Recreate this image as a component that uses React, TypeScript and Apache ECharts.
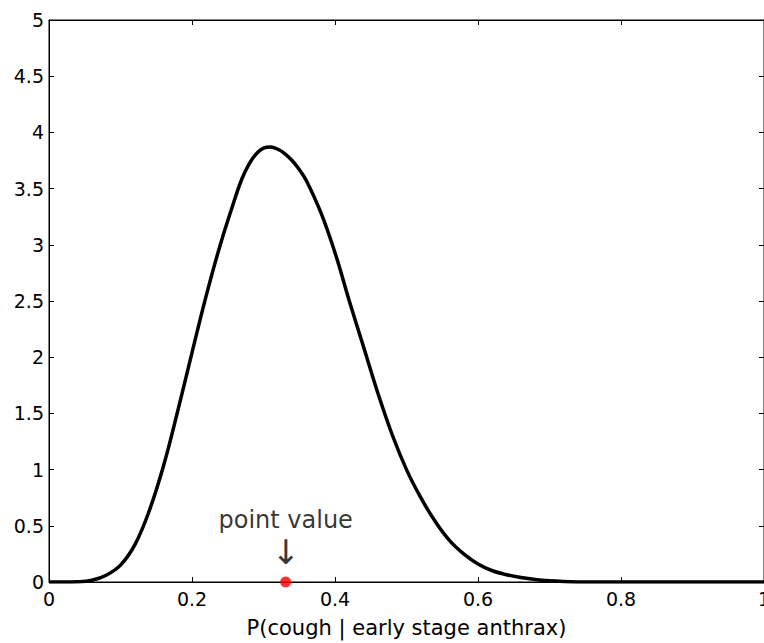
import React, { useEffect, useRef } from "react";
import * as echarts from "echarts";

const xValues = [0, 0.02, 0.04, 0.06, 0.08, 0.1, 0.12, 0.14, 0.16, 0.18, 0.2, 0.22, 0.24, 0.26, 0.27, 0.28, 0.29, 0.3, 0.31, 0.32, 0.33, 0.34, 0.35, 0.36, 0.38, 0.4, 0.42, 0.44, 0.46, 0.48, 0.5, 0.52, 0.54, 0.56, 0.58, 0.6, 0.62, 0.64, 0.66, 0.68, 0.7, 0.72, 0.75, 0.8, 0.9, 1.0];
const density = [0, 0, 0.002, 0.015, 0.06, 0.15, 0.33, 0.63, 1.03, 1.52, 2.04, 2.55, 3.01, 3.41, 3.59, 3.72, 3.81, 3.86, 3.87, 3.85, 3.81, 3.75, 3.67, 3.57, 3.29, 2.93, 2.5, 2.09, 1.68, 1.31, 1.0, 0.75, 0.54, 0.37, 0.25, 0.16, 0.1, 0.065, 0.04, 0.022, 0.011, 0.005, 0, 0, 0, 0];
const pointValue = [0.331, 0];
const xLabel = "P(cough | early stage anthrax)";
const annotation = "point value";

const FONT = "DejaVu Sans";

export default function App() {
  const ref = useRef<HTMLDivElement>(null);
  useEffect(() => {
    if (!ref.current) return;
    const chart = echarts.init(ref.current, null, { renderer: "svg" });
    const axisCommon = {
      axisLine: { show: true, onZero: false, lineStyle: { color: "#000", width: 1 } },
      axisTick: { show: true, inside: true, length: 5, lineStyle: { color: "#000", width: 1 } },
      splitLine: { show: false },
    };
    chart.setOption({
      animation: false,
      backgroundColor: "#fff",
      grid: {
        left: 49,
        right: 0,
        top: 20,
        bottom: 61,
        containLabel: false,
        outerBoundsMode: "none",
        show: true,
        borderColor: "#000",
        borderWidth: 1,
        backgroundColor: "transparent",
      },
      xAxis: [
        {
          type: "value",
          min: 0,
          max: 1,
          interval: 0.2,
          position: "bottom",
          name: xLabel,
          nameLocation: "middle",
          nameGap: 35,
          nameTextStyle: { fontFamily: FONT, fontSize: 21, color: "#000" },
          axisLabel: { fontFamily: FONT, fontSize: 19, color: "#000", margin: 7 },
          ...axisCommon,
        },
        {
          type: "value",
          min: 0,
          max: 1,
          interval: 0.2,
          position: "top",
          axisLabel: { show: false },
          ...axisCommon,
        },
      ],
      yAxis: [
        {
          type: "value",
          min: 0,
          max: 5,
          interval: 0.5,
          position: "left",
          axisLabel: { fontFamily: FONT, fontSize: 19, color: "#000", margin: 5 },
          ...axisCommon,
        },
        {
          type: "value",
          min: 0,
          max: 5,
          interval: 0.5,
          position: "right",
          axisLabel: { show: false },
          ...axisCommon,
        },
      ],
      series: [
        {
          type: "line",
          data: xValues.map((x, i) => [x, density[i]]),
          showSymbol: false,
          smooth: 0.4,
          lineStyle: { color: "#000", width: 3.5 },
          z: 3,
        },
        {
          type: "line",
          xAxisIndex: 1,
          yAxisIndex: 1,
          data: [],
          showSymbol: false,
        },
        {
          type: "scatter",
          data: [pointValue],
          symbolSize: 11,
          itemStyle: { color: "#ff0000" },
          clip: false,
          z: 5,
          label: {
            show: true,
            position: "top",
            distance: 6,
            color: "#000",
            formatter: "{a|" + annotation + "}\n{b|\u2193}",
            rich: {
              a: { fontFamily: FONT, fontSize: 24, color: "#000", lineHeight: 26 },
              b: { fontFamily: FONT, fontSize: 34, color: "#000", lineHeight: 38 },
            },
          },
        },
      ],
    });
    return () => chart.dispose();
  }, []);
  return <div ref={ref} style={{ width: 764, height: 643, position: "fixed", left: 0, top: 0 }} />;
}
